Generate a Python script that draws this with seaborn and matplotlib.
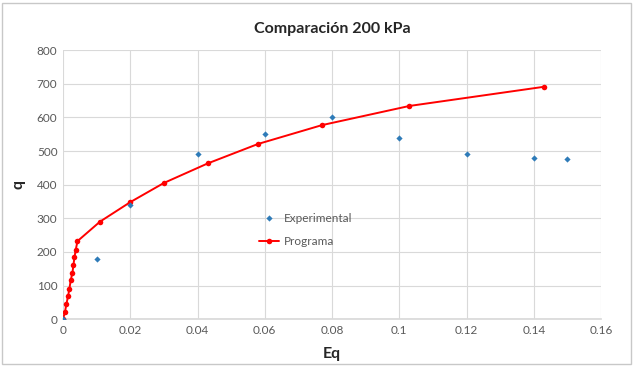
import matplotlib
matplotlib.use("Agg")
import matplotlib.pyplot as plt
import seaborn as sns
import pandas as pd
from matplotlib.patches import Rectangle

exp_eq = [0.0, 0.01, 0.02, 0.04, 0.06, 0.08, 0.10, 0.12, 0.14, 0.15]
exp_q = [0, 180, 340, 490, 550, 600, 540, 490, 480, 475]

prog_eq = [0.0, 0.0006, 0.001, 0.0015, 0.0019, 0.0023, 0.0028, 0.0031, 0.0034,
           0.0038, 0.0043, 0.011, 0.020, 0.030, 0.043, 0.058, 0.077, 0.103, 0.143]
prog_q = [0, 22, 45, 68, 91, 116, 138, 161, 184, 207, 232, 290, 348, 405, 463,
          521, 577, 634, 691]

title = "Comparación 200 kPa"
xlabel = "Eq"
ylabel = "q"
xticks = [0, 0.02, 0.04, 0.06, 0.08, 0.1, 0.12, 0.14, 0.16]
xticklabels = ["0", "0.02", "0.04", "0.06", "0.08", "0.1", "0.12", "0.14", "0.16"]
yticks = [0, 100, 200, 300, 400, 500, 600, 700, 800]

sns.set_theme(style="whitegrid")
plt.rcParams["font.family"] = ["Lato", "DejaVu Sans"]

fig = plt.figure(figsize=(6.34, 3.66), dpi=100)
ax = fig.add_axes([0.0994, 0.128, 0.8486, 0.735])

df_exp = pd.DataFrame({"Eq": exp_eq, "q": exp_q})
df_prog = pd.DataFrame({"Eq": prog_eq, "q": prog_q})

sns.lineplot(data=df_prog, x="Eq", y="q", ax=ax, color="#FF0000", lw=1.4,
             marker="o", markersize=4, markeredgewidth=0, label="Programa",
             sort=False, zorder=3)
sns.scatterplot(data=df_exp, x="Eq", y="q", ax=ax, color="#2E7BB8", marker="D",
                s=10, linewidth=0, label="Experimental", zorder=4)

ax.set_xlim(0, 0.16)
ax.set_ylim(0, 800)
ax.set_xticks(xticks)
ax.set_xticklabels(xticklabels)
ax.set_yticks(yticks)
ax.tick_params(axis="both", labelsize=8.5, labelcolor="#595959", pad=4, length=0)
ax.grid(True, color="#D9D9D9", lw=0.8)
for s in ["top", "right", "left"]:
    ax.spines[s].set_visible(False)
ax.spines["bottom"].set_visible(True)
ax.spines["bottom"].set_color("#D9D9D9")
ax.set_facecolor("white")

ax.set_xlabel(xlabel, fontsize=11.5, fontweight="bold", color="#262626", labelpad=8)
ax.set_ylabel(ylabel, fontsize=11.5, fontweight="bold", color="#262626", labelpad=8)
ax.set_title(title, fontsize=11.5, fontweight="bold", color="#262626", pad=12)

handles, labels = ax.get_legend_handles_labels()
order = [labels.index("Experimental"), labels.index("Programa")]
leg = ax.legend([handles[i] for i in order], [labels[i] for i in order],
                loc="upper left", bbox_to_anchor=(0.355, 0.414), frameon=False,
                fontsize=8.5, labelcolor="#595959", handlelength=1.7,
                handletextpad=0.4, labelspacing=1.1, borderaxespad=0)

fig.patches.append(Rectangle((0.003, 0.005), 0.992, 0.988, transform=fig.transFigure,
                             fill=False, edgecolor="#C8C8C8", lw=1))

fig.savefig("out.png", dpi=100)
